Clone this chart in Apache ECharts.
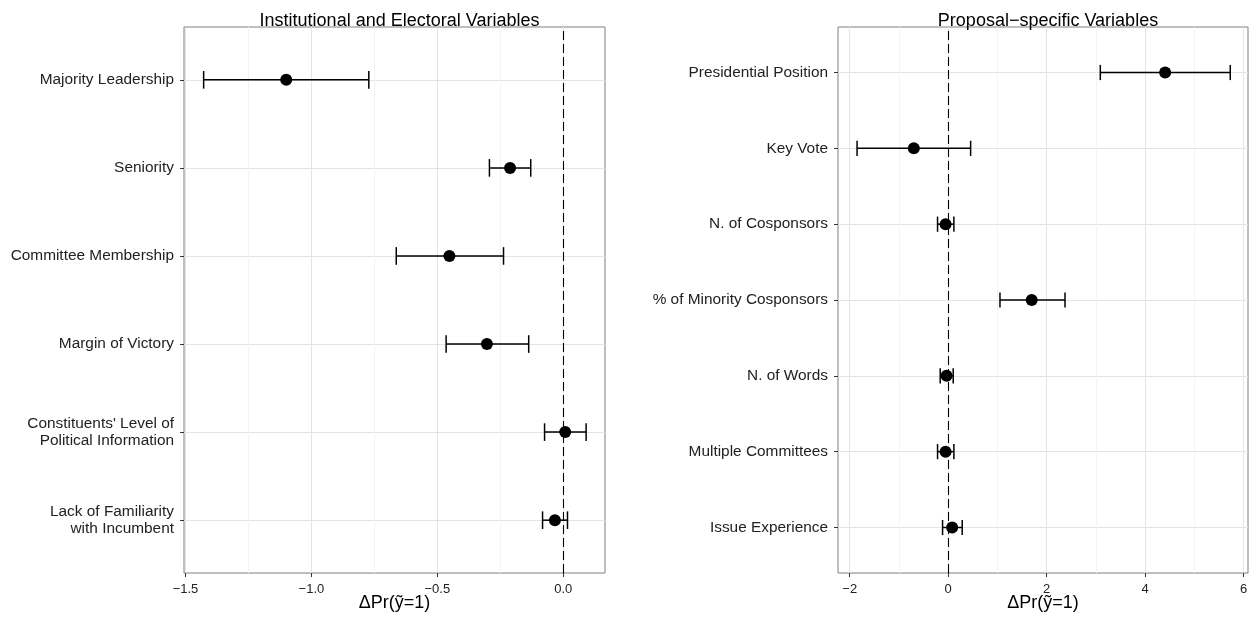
<!DOCTYPE html>
<html><head><meta charset="utf-8">
<script src="https://cdn.jsdelivr.net/npm/echarts@6/dist/echarts.min.js"></script>
<style>html,body{margin:0;padding:0;background:#fff}#c{width:1257px;height:619px}</style>
</head><body><div id="c"></div>
<script>
// ---------- data ----------
const leftTitle = 'Institutional and Electoral Variables';
const leftCategories = ['Majority Leadership', 'Seniority', 'Committee Membership', 'Margin of Victory',
  "Constituents' Level of\nPolitical Information", 'Lack of Familiarity\nwith Incumbent'];
const leftEstimate = [-1.100, -0.211, -0.452, -0.303, 0.008, -0.033];
const leftLower    = [-1.428, -0.293, -0.663, -0.465, -0.074, -0.082];
const leftUpper    = [-0.772, -0.129, -0.237, -0.137, 0.091, 0.017];
const leftXLimits  = [-1.506, 0.166];
const leftTickRange = [-1.5, 0];
const leftTickStep = 0.5;

const rightTitle = 'Proposal\u2212specific Variables';
const rightCategories = ['Presidential Position', 'Key Vote', 'N. of Cosponsors', '% of Minority Cosponsors',
  'N. of Words', 'Multiple Committees', 'Issue Experience'];
const rightEstimate = [4.407, -0.698, -0.053, 1.696, -0.033, -0.053, 0.081];
const rightLower    = [3.090, -1.851, -0.216, 1.052, -0.162, -0.216, -0.114];
const rightUpper    = [5.730, 0.456, 0.116, 2.373, 0.102, 0.116, 0.285];
const rightXLimits  = [-2.238, 6.09];
const rightTickRange = [-2, 6];
const rightTickStep = 2;

const axisTitle = '\u0394Pr(\u1EF9=1)';

// ---------- layout / style ----------
const FONT = "'Liberation Sans', Arial, Helvetica, sans-serif";
const panels = [
  {title: leftTitle, cats: leftCategories, est: leftEstimate, lo: leftLower, hi: leftUpper,
   lim: leftXLimits, ticks: leftTickRange, step: leftTickStep, dec: 1, box: {l: 184, r: 605, t: 27, b: 573}},
  {title: rightTitle, cats: rightCategories, est: rightEstimate, lo: rightLower, hi: rightUpper,
   lim: rightXLimits, ticks: rightTickRange, step: rightTickStep, dec: 0, box: {l: 838, r: 1248, t: 27, b: 573}}
];
const W = 1257, H = 619;
const grid = [], xAxis = [], yAxis = [], series = [], title = [];

panels.forEach((p, i) => {
  const {l, r, t, b} = p.box;
  const w = r - l, h = b - t;
  const n = p.cats.length;
  const pad = 0.6 * h / (n - 1 + 1.2);
  const px = v => l + (v - p.lim[0]) / (p.lim[1] - p.lim[0]) * w;
  const tl = px(p.ticks[0]), tr = px(p.ticks[1]);
  const g0 = 3 * i;
  // border grid
  grid.push({left: l, top: t, width: w, height: h, show: true, borderColor: '#7f7f7f', borderWidth: 1, backgroundColor: 'transparent'});
  // tick grid
  grid.push({left: tl, top: t, width: tr - tl, height: h});
  // data grid
  grid.push({left: l, top: t + pad, width: w, height: h - 2 * pad});

  xAxis.push({gridIndex: g0, type: 'value', min: p.lim[0], max: p.lim[1],
    axisLine: {show: false, onZero: false}, axisTick: {show: false}, axisLabel: {show: false}, splitLine: {show: false},
    name: axisTitle, nameLocation: 'middle', nameGap: 21,
    nameTextStyle: {fontSize: 18, color: '#000', fontFamily: FONT}});
  xAxis.push({gridIndex: g0 + 1, type: 'value', min: p.ticks[0], max: p.ticks[1], interval: p.step,
    axisLine: {show: false, onZero: false},
    axisTick: {show: true, length: 4, lineStyle: {color: '#333', width: 1}},
    axisLabel: {fontSize: 13, color: '#222', margin: 10, fontFamily: FONT,
      formatter: v => (+v).toFixed(p.dec).replace('-', '\u2212')},
    splitLine: {show: true, lineStyle: {color: '#e4e4e4', width: 1}},
    minorTick: {show: false, splitNumber: 2},
    minorSplitLine: {show: true, lineStyle: {color: '#f3f3f3', width: 1}}});
  xAxis.push({gridIndex: g0 + 2, type: 'value', min: p.lim[0], max: p.lim[1], show: false,
    axisLine: {onZero: false}});

  yAxis.push({gridIndex: g0, type: 'value', min: 0, max: 1, show: false, axisLine: {onZero: false}});
  yAxis.push({gridIndex: g0 + 1, type: 'value', min: 0, max: 1, show: false, axisLine: {onZero: false}});
  yAxis.push({gridIndex: g0 + 2, type: 'category', data: p.cats, inverse: true, boundaryGap: false,
    position: 'left',
    axisLine: {show: false, onZero: false},
    axisTick: {show: true, length: 4, interval: 0, lineStyle: {color: '#333', width: 1}},
    axisLabel: {interval: 0, fontSize: 15.4, color: '#222', margin: 10, lineHeight: 17, fontFamily: FONT, align: 'right'},
    splitLine: {show: true, interval: 0, lineStyle: {color: '#e4e4e4', width: 1}}});

  // zero reference line
  series.push({type: 'scatter', xAxisIndex: g0 + 1, yAxisIndex: g0 + 1, data: [], silent: true, z: 1,
    markLine: {silent: true, symbol: ['none', 'none'], label: {show: false}, animation: false,
      lineStyle: {color: '#000', type: [9, 4], width: 1.1}, data: [{xAxis: 0}]}});
  // error bars
  series.push({type: 'custom', xAxisIndex: g0 + 2, yAxisIndex: g0 + 2, z: 2, silent: true,
    data: p.cats.map((c, j) => [p.lo[j], p.hi[j], j]),
    encode: {x: [0, 1], y: 2},
    renderItem: (params, api) => {
      const y = api.value(2);
      const a = api.coord([api.value(0), y]);
      const c = api.coord([api.value(1), y]);
      const half = api.size([0, 1])[1] * 0.1;
      const st = {stroke: '#000', lineWidth: 1.5};
      return {type: 'group', children: [
        {type: 'line', shape: {x1: a[0], y1: a[1], x2: c[0], y2: c[1]}, style: st},
        {type: 'line', shape: {x1: a[0], y1: a[1] - half, x2: a[0], y2: a[1] + half}, style: st},
        {type: 'line', shape: {x1: c[0], y1: c[1] - half, x2: c[0], y2: c[1] + half}, style: st}
      ]};
    }});
  // point estimates
  series.push({type: 'scatter', xAxisIndex: g0 + 2, yAxisIndex: g0 + 2, z: 3, silent: true,
    symbol: 'circle', symbolSize: 12, itemStyle: {color: '#000', opacity: 1},
    data: p.cats.map((c, j) => [p.est[j], j])});

  title.push({text: p.title, left: (l + r) / 2, top: 7, textAlign: 'center',
    textStyle: {fontSize: 18, fontWeight: 'normal', color: '#000', fontFamily: FONT}});
});

const chart = echarts.init(document.getElementById('c'), null, {renderer: 'canvas', width: W, height: H});
chart.setOption({animation: false, backgroundColor: '#fff', title, grid, xAxis, yAxis, series});
</script>
</body></html>
